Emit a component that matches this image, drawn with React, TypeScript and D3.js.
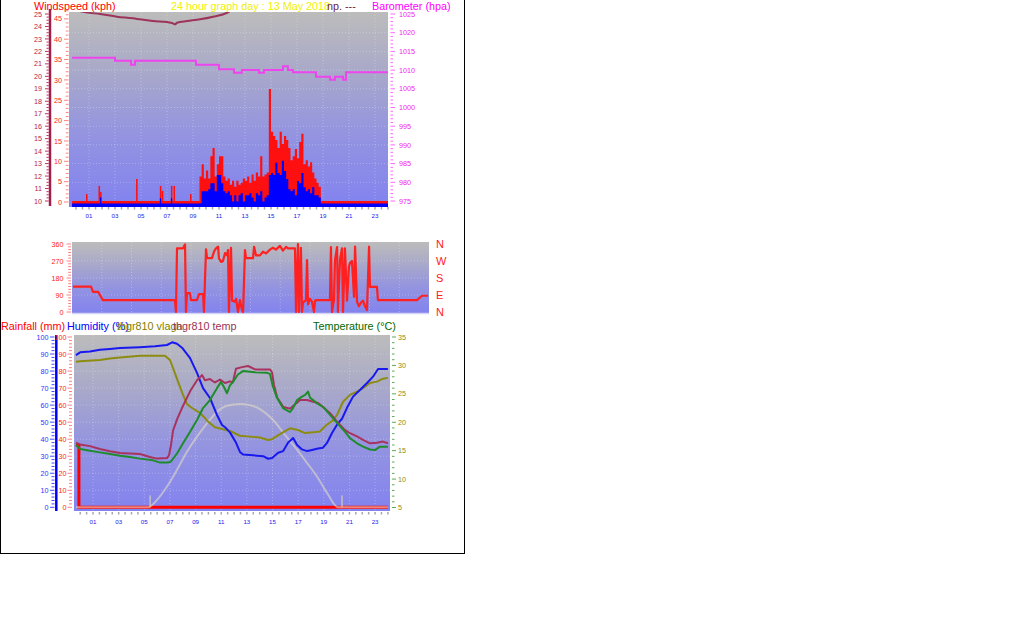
import React from "react";
import * as d3 from "d3";

// ---------- shared ----------
const hourLabels = ["01", "03", "05", "07", "09", "11", "13", "15", "17", "19", "21", "23"];
const hourLabelValues = [1, 3, 5, 7, 9, 11, 13, 15, 17, 19, 21, 23];

// ---------- top chart: wind + barometer ----------
const windStartHour = 9.5;
const windStepHours = 1 / 6;
const gustKph = [6, 9, 5.5, 7.5, 5.5, 11, 13, 6, 9, 11, 11, 6, 5, 5.5, 4, 5, 3.5, 5, 4, 4.5, 5.5, 5, 6, 4.5, 6.5, 5, 7, 6, 11, 6, 6.5, 7, 27.5, 17, 16, 15, 13, 17, 14, 16, 15, 13, 10, 11, 12.8, 10.5, 14.5, 16.5, 9, 10, 8.5, 9.5, 7, 5.5, 4.5, 3.5, 0];
const avgKph = [0, 3, 3, 3, 3.5, 5, 5, 3, 7, 7, 5, 3, 2.5, 3, 2, 0.5, 2, 0.5, 2, 2.5, 0.5, 2, 2, 2.5, 1.5, 0.5, 2.5, 2, 3, 0.5, 1.5, 2, 7, 7.5, 7, 10, 7.5, 7, 10.5, 8, 6, 3.5, 3, 3.5, 2, 5.5, 5, 7.5, 4, 3, 3.5, 2.5, 4, 2, 2, 1.5, 0];
const spikeHours = [0.77, 1.73, 1.85, 4.62, 6.45, 6.6, 7.3, 7.5, 8.77];
const spikeGust = [1.7, 3.7, 2.2, 5.4, 3.7, 2.5, 3.7, 3.7, 1.7];
const spikeAvg = [0, 0, 1.5, 0, 1.3, 0, 1.3, 0, 0];

const baroHours = [-0.3, 3.0, 4.23, 4.54, 9.23, 11.0, 12.15, 12.75, 14.08, 14.46, 15.92, 16.3, 16.69, 18.46, 19.54, 19.92, 20.54, 20.77, 24];
const baroHpa = [1013.3, 1012.5, 1011.4, 1012.5, 1011.4, 1010.2, 1009.3, 1010.0, 1009.3, 1010.0, 1011.0, 1010.0, 1009.4, 1008.2, 1007.4, 1008.2, 1007.4, 1009.4, 1009.4];

const innerTempHours = [-0.3, 0.77, 1.85, 3.15, 4.38, 4.92, 5.92, 7.0, 7.46, 7.62, 7.77, 8.54, 9.54, 10.54, 11.62, 11.85, 12.6, 24];
const innerTempVals = [25.4, 25.13, 25.0, 24.78, 24.65, 24.57, 24.43, 24.35, 24.25, 24.17, 24.3, 24.43, 24.57, 24.78, 25.1, 25.24, 25.6, 26.5];

const outerAxisTicks = [10, 11, 12, 13, 14, 15, 16, 17, 18, 19, 20, 21, 22, 23, 24, 25];
const windAxisTicks = [0, 5, 10, 15, 20, 25, 30, 35, 40, 45];
const baroAxisTicks = [975, 980, 985, 990, 995, 1000, 1005, 1010, 1015, 1020, 1025];

// ---------- middle chart: wind direction ----------
const dirHours = [0.07, 1.28, 1.41, 1.75, 2.08, 6.92, 6.99, 7.06, 7.46, 7.6, 7.66, 7.73, 7.93, 8.0, 8.4, 8.54, 8.81, 8.87, 9.01, 9.08, 9.41, 9.55, 9.68, 9.82, 9.88, 10.02, 10.15, 10.29, 10.42, 10.49, 10.55, 10.69, 10.76, 10.96, 11.03, 11.16, 11.29, 11.43, 11.5, 11.63, 11.7, 12.17, 12.24, 12.37, 12.64, 12.84, 13.04, 13.31, 13.51, 13.71, 13.98, 14.18, 14.39, 14.52, 14.99, 15.06, 15.19, 15.26, 15.39, 15.46, 15.53, 15.73, 15.8, 15.87, 16.0, 16.13, 16.27, 16.34, 16.47, 17.34, 17.41, 17.48, 17.61, 17.68, 17.82, 17.88, 18.02, 18.15, 18.22, 18.35, 18.49, 18.62, 18.69, 18.82, 18.96, 19.03, 19.16, 19.29, 19.43, 19.56, 19.7, 19.83, 19.97, 20.03, 20.5, 20.57, 23.19, 23.53, 23.93];
const dirDeg = [134, 134, 107, 107, 63, 63, 0, 337, 337, 358, 0, 100, 100, 63, 63, 95, 95, 0, 332, 285, 285, 320, 337, 346, 285, 265, 270, 312, 300, 328, 0, 340, 60, 55, 70, 0, 63, 10, 0, 328, 285, 285, 345, 300, 300, 320, 310, 330, 340, 330, 350, 325, 345, 337, 337, 0, 360, 0, 340, 0, 50, 63, 275, 40, 70, 55, 0, 60, 63, 63, 344, 0, 63, 275, 344, 0, 280, 337, 0, 337, 60, 240, 260, 270, 80, 346, 55, 30, 50, 60, 30, 10, 346, 133, 133, 63, 63, 86, 86];
const dirAxisTicks = [0, 90, 180, 270, 360];
const compassLabels = ["N", "W", "S", "E", "N"];
const compassDeg = [360, 270, 180, 90, 0];

// ---------- bottom chart ----------
const humHours = [-0.33, 0, 0.76, 1.54, 2.32, 3.1, 4.66, 5.83, 6.77, 7.17, 7.55, 7.94, 8.56, 9.11, 9.58, 10.12, 10.67, 11.06, 11.3, 11.68, 12.15, 12.46, 12.7, 13.48, 14.27, 14.66, 14.97, 15.44, 15.83, 16.22, 16.61, 16.92, 17.3, 17.7, 18.0, 18.55, 18.94, 19.25, 19.64, 20.03, 20.42, 20.81, 21.28, 21.82, 22.37, 22.84, 23.23, 24.0];
const humVals = [89.4, 91, 91.5, 92.5, 93, 93.5, 94, 94.5, 95.3, 96.9, 96, 93.7, 87.7, 78.9, 70, 64.2, 54.2, 48.3, 47, 44, 38, 32.5, 31, 30.5, 30, 28.5, 29, 32, 33, 38, 40.7, 36.6, 34, 33, 33.5, 34.5, 35, 37.8, 43.6, 48.5, 52, 58.4, 65, 68.9, 73, 76.7, 81.2, 81.2];

const vlagaHours = [-0.33, 0, 1.54, 2.32, 3.1, 4.66, 6.61, 7.0, 7.24, 7.63, 8.02, 8.33, 8.72, 9.34, 9.73, 9.97, 10.51, 11.06, 11.68, 12.46, 13.24, 14.02, 14.64, 14.96, 15.58, 16.36, 16.98, 17.53, 18.15, 18.69, 19.16, 19.7, 20.03, 20.5, 21.04, 21.59, 22.06, 22.6, 23.15, 23.61, 24.0];
const vlagaVals = [85.5, 85.7, 86.5, 87.4, 88, 89, 89, 86.5, 81.8, 73.8, 66, 60.6, 58.3, 55.4, 52.4, 50.3, 47, 46, 44.8, 42, 41.5, 41, 39.5, 40, 43, 46.4, 45.4, 43.6, 44, 44.5, 48, 51, 54.2, 62, 66, 67.9, 70, 73, 73.8, 75.5, 76];

const thgrTempHours = [-0.33, 0, 0.76, 1.54, 2.32, 3.1, 4.66, 5.44, 5.99, 6.77, 6.93, 7.08, 7.24, 7.55, 7.94, 8.56, 9.11, 9.5, 9.73, 10.12, 10.51, 10.9, 11.3, 11.68, 11.9, 12.15, 12.62, 13.09, 13.64, 14.19, 14.8, 14.96, 15.11, 15.37, 15.84, 16.38, 16.68, 17.15, 17.7, 18.17, 18.56, 18.94, 19.49, 20.03, 20.66, 21.04, 21.59, 22.06, 22.6, 23.15, 23.61, 24.0];
const thgrTempVals = [16.4, 16.1, 15.8, 15.3, 14.9, 14.6, 14.4, 13.9, 13.6, 13.7, 14.2, 16, 18.5, 20.5, 22.5, 25.4, 27.4, 28.3, 27.4, 27.6, 27.0, 27.5, 26.9, 27.2, 27.0, 29.4, 29.7, 29.9, 29.3, 29.3, 29.3, 28.8, 26.6, 24.3, 22.7, 22.4, 23.0, 23.9, 23.9, 23.6, 23.4, 22.7, 21.6, 20.1, 18.6, 18.1, 17.5, 16.9, 16.3, 16.4, 16.6, 16.3];

const tempHours = [-0.33, 0, 0.76, 1.54, 2.32, 3.1, 3.88, 4.66, 5.68, 6.22, 6.84, 7.08, 7.55, 8.02, 8.56, 9.11, 9.58, 10.12, 10.67, 10.98, 11.21, 11.45, 11.68, 11.92, 12.3, 12.69, 13.64, 14.58, 14.8, 15.03, 15.35, 15.82, 16.37, 16.6, 16.91, 17.3, 17.55, 17.77, 17.93, 18.17, 18.48, 18.94, 19.49, 20.03, 20.66, 21.04, 21.59, 22.06, 22.6, 22.99, 23.38, 24.0];
const tempVals = [16.0, 15.3, 15.0, 14.7, 14.4, 14.1, 13.9, 13.6, 13.3, 12.9, 12.9, 13.1, 14.5, 16.3, 18.3, 20.4, 22.5, 23.9, 26, 27.1, 26.2, 25.1, 26.5, 27.1, 28.4, 29.0, 28.8, 28.7, 28.5, 26.3, 24.3, 22.5, 21.8, 22.5, 23.9, 24.5, 24.8, 25.4, 24.3, 23.9, 23.3, 22.7, 21.3, 19.9, 18.3, 17.2, 16.3, 15.7, 15.2, 15.1, 15.7, 15.7];

const solarHours = [-0.33, 5.29, 5.99, 6.77, 7.55, 8.33, 9.11, 9.89, 10.67, 11.45, 12.46, 13.24, 14.02, 15.03, 15.97, 16.91, 17.69, 18.47, 19.25, 20.11, 24];
const solarVals = [0, 0, 4.3, 12.2, 22, 32.6, 41.5, 49.3, 56, 59.6, 60.7, 60, 57.7, 51.4, 42.6, 33.8, 26.1, 18.1, 8.5, 0, 0];

const rainHours = [-0.33, -0.1, 24];
const rainMm = [36.5, 0, 0];
const sunMarkerHours = [5.45, 20.42];

const humAxisTicks = [0, 10, 20, 30, 40, 50, 60, 70, 80, 90, 100];
const tempAxisTicks = [5, 10, 15, 20, 25, 30, 35];

const FONT = "'Liberation Sans', Arial, Helvetica, sans-serif";

type Sc = d3.ScaleLinear<number, number>;
function linePath(xs: number[], ys: number[], sx: Sc, sy: Sc, curve: d3.CurveFactory = d3.curveLinear) {
  const pts: [number, number][] = xs.map((x, i) => [x, ys[i]]);
  return d3.line<[number, number]>().x((d) => sx(d[0])).y((d) => sy(d[1])).curve(curve)(pts) || "";
}

function Gradient({ id }: { id: string }) {
  return (
    <linearGradient id={id} x1="0" y1="0" x2="0" y2="1">
      <stop offset="0" stopColor="#bcbcbc" />
      <stop offset="0.3" stopColor="#a9a9c9" />
      <stop offset="0.6" stopColor="#9595df" />
      <stop offset="1" stopColor="#8282f0" />
    </linearGradient>
  );
}

export default function App() {
  // ---------- top chart scales ----------
  const top = { x0: 69, x1: 388, y0: 12, y1: 207 };
  const tx = d3.scaleLinear().domain([0, 24]).range([76, 388]);
  const wy = d3.scaleLinear().domain([0, 45]).range([202, 202 - 45 * 4.07]);
  const oy = d3.scaleLinear().domain([10, 25]).range([201, 14]);
  const by = d3.scaleLinear().domain([975, 1025]).range([201, 14]);

  // ---------- direction chart ----------
  const mid = { x0: 72, x1: 429, y0: 242, y1: 314 };
  const dx = d3.scaleLinear().domain([0, 24]).range([72, 429]);
  const dy = d3.scaleLinear().domain([0, 360]).range([312, 244]);

  // ---------- bottom chart ----------
  const bot = { x0: 74, x1: 390, y0: 335, y1: 511 };
  const bx = d3.scaleLinear().domain([0, 24]).range([80.2, 387.9]);
  const hy = d3.scaleLinear().domain([0, 100]).range([507.3, 337]);
  const ty = d3.scaleLinear().domain([5, 35]).range([507.5, 337]);

  const windHours = gustKph.map((_, i) => windStartHour + i * windStepHours);
  const gustArea = d3
    .area<number>()
    .x((_, i) => tx(windHours[i]))
    .y0(top.y1)
    .y1((d) => wy(d) - 1)
    .curve(d3.curveStepAfter)(gustKph) || "";
  const avgArea = d3
    .area<number>()
    .x((_, i) => tx(windHours[i]))
    .y0(top.y1)
    .y1((d) => wy(d) + 1.5)
    .curve(d3.curveStepAfter)(avgKph) || "";

  const halfHours = d3.range(0, 24.01, 0.5);
  const gridCol = "rgba(255,255,255,0.28)";

  return (
    <svg
      width={1016}
      height={626}
      style={{ position: "absolute", left: 0, top: 0, background: "#fff" }}
      fontFamily={FONT}
    >
      <defs>
        <Gradient id="bgTop" />
        <Gradient id="bgMid" />
        <Gradient id="bgBot" />
        <clipPath id="clipTop">
          <rect x={top.x0} y={top.y0} width={top.x1 - top.x0} height={top.y1 - top.y0} />
        </clipPath>
        <clipPath id="clipMid">
          <rect x={mid.x0} y={mid.y0} width={mid.x1 - mid.x0} height={mid.y1 - mid.y0} />
        </clipPath>
        <clipPath id="clipBot">
          <rect x={bot.x0} y={bot.y0} width={bot.x1 - bot.x0} height={bot.y1 - bot.y0} />
        </clipPath>
      </defs>
      <rect x={0} y={0} width={1016} height={626} fill="#fff" />

      {/* ================= TOP CHART ================= */}
      <rect x={top.x0} y={top.y0} width={top.x1 - top.x0} height={top.y1 - top.y0} fill="url(#bgTop)" />
      <g stroke={gridCol} strokeDasharray="1 2">
        {hourLabelValues.map((h) => (
          <line key={h} x1={tx(h)} x2={tx(h)} y1={top.y0} y2={top.y1} />
        ))}
        {baroAxisTicks.slice(1, -1).map((v) => (
          <line key={v} x1={top.x0} x2={top.x1} y1={by(v)} y2={by(v)} />
        ))}
      </g>
      <g clipPath="url(#clipTop)">
        {/* baselines */}
        <rect x={tx(-0.3)} y={wy(0) - 1} width={tx(24) - tx(-0.3)} height={top.y1 - wy(0) + 1} fill="#ff1010" />
        <path d={gustArea} fill="#ff1010" />
        {spikeHours.map((h, i) => (
          <rect key={"sg" + i} x={tx(h)} y={wy(spikeGust[i]) - 1} width={tx(h + 0.12) - tx(h)} height={top.y1 - wy(spikeGust[i]) + 1} fill="#ff1010" />
        ))}
        <rect x={tx(-0.3)} y={wy(0) + 1.5} width={tx(24) - tx(-0.3)} height={top.y1 - wy(0) - 1.5} fill="#0000ff" />
        <path d={avgArea} fill="#0000ff" />
        {spikeHours.map((h, i) =>
          spikeAvg[i] > 0 ? (
            <rect key={"sa" + i} x={tx(h)} y={wy(spikeAvg[i]) + 1.5} width={tx(h + 0.1) - tx(h)} height={top.y1 - wy(spikeAvg[i]) - 1.5} fill="#0000ff" />
          ) : null
        )}
        <path d={linePath(baroHours, baroHpa, tx, by, d3.curveStepAfter)} fill="none" stroke="#ee44ee" strokeWidth={2} />
        <path d={linePath(innerTempHours, innerTempVals, tx, oy, d3.curveMonotoneX)} fill="none" stroke="#9c3358" strokeWidth={2} />
      </g>
      {/* x minor ticks + labels */}
      <g stroke="#a8a8a8" strokeWidth={1.5}>
        {halfHours.map((h) => (
          <line key={h} x1={tx(h)} x2={tx(h)} y1={207} y2={209.5} />
        ))}
      </g>
      <g fill="#2020ee" fontSize={6.2} textAnchor="middle">
        {hourLabels.map((l, i) => (
          <text key={l} x={tx(hourLabelValues[i])} y={217.5}>{l}</text>
        ))}
      </g>
      {/* outer left axis (10..25) */}
      <line x1={50} x2={50} y1={9} y2={206} stroke="#a0204a" strokeWidth={2.5} />
      <g stroke="#c03060" strokeWidth={1}>
        {d3.range(10, 25.01, 0.25).map((v) => (
          <line key={v} x1={Number.isInteger(v) ? 45 : 46.5} x2={48.7} y1={oy(v)} y2={oy(v)} />
        ))}
      </g>
      <g fill="#b8204a" fontSize={7.2} textAnchor="end">
        {outerAxisTicks.map((v) => (
          <text key={v} x={42} y={oy(v) + 2.6}>{v}</text>
        ))}
      </g>
      {/* wind axis 0..45 */}
      <g stroke="#ff8080" strokeWidth={1}>
        {d3.range(0, 47.01, 1).map((v) => (
          <line key={v} x1={v % 5 === 0 ? 64 : 65.8} x2={68.5} y1={wy(v)} y2={wy(v)} />
        ))}
      </g>
      <g fill="#ff2020" fontSize={7.2} textAnchor="end">
        {windAxisTicks.map((v) => (
          <text key={v} x={62} y={wy(v) + 2.6}>{v}</text>
        ))}
      </g>
      {/* barometer axis */}
      <g stroke="#ff66ff" strokeWidth={1}>
        {d3.range(975, 1025.01, 1).map((v) => (
          <line key={v} x1={390.5} x2={v % 5 === 0 ? 395 : 393} y1={by(v)} y2={by(v)} />
        ))}
      </g>
      <g fill="#ee22ee" fontSize={7.2} textAnchor="start">
        {baroAxisTicks.map((v) => (
          <text key={v} x={399} y={by(v) + 2.6}>{v}</text>
        ))}
      </g>
      {/* titles */}
      <g fontSize={10.8}>
        <text x={34} y={9.5} fill="#ff0000">Windspeed (kph)</text>
        <text x={171} y={9.5} fill="#f0f000">24 hour graph day : 13 May 2018</text>
        <text x={327} y={9.5} fill="#702040">np. ---</text>
        <text x={372} y={9.5} fill="#ff00ff">Barometer (hpa)</text>
      </g>

      {/* ================= DIRECTION CHART ================= */}
      <rect x={mid.x0} y={mid.y0} width={mid.x1 - mid.x0} height={mid.y1 - mid.y0} fill="url(#bgMid)" />
      <g stroke={gridCol} strokeDasharray="1 2">
        {[90, 180, 270].map((v) => (
          <line key={v} x1={mid.x0} x2={mid.x1} y1={dy(v)} y2={dy(v)} />
        ))}
        {d3.range(2, 24, 2).map((h) => (
          <line key={h} x1={dx(h)} x2={dx(h)} y1={mid.y0} y2={mid.y1} />
        ))}
      </g>
      <line x1={mid.x0} x2={mid.x1} y1={313.5} y2={313.5} stroke="#d4d4f4" strokeWidth={1.5} />
      <g clipPath="url(#clipMid)">
        <path d={linePath(dirHours, dirDeg, dx, dy)} fill="none" stroke="#ff2020" strokeWidth={2.2} strokeLinejoin="round" />
      </g>
      <g stroke="#ff8080" strokeWidth={1}>
        {d3.range(0, 360.01, 15).map((v) => (
          <line key={v} x1={v % 90 === 0 ? 66.5 : 68.2} x2={71} y1={dy(v)} y2={dy(v)} />
        ))}
      </g>
      <g fill="#ff2020" fontSize={7.2} textAnchor="end">
        {dirAxisTicks.map((v) => (
          <text key={v} x={63.5} y={dy(v) + 2.6}>{v}</text>
        ))}
      </g>
      <g fill="#ff2020" fontSize={11}>
        {compassLabels.map((l, i) => (
          <text key={i} x={436} y={dy(compassDeg[i]) + 4}>{l}</text>
        ))}
      </g>

      {/* ================= BOTTOM CHART ================= */}
      <rect x={bot.x0} y={bot.y0} width={bot.x1 - bot.x0} height={bot.y1 - bot.y0} fill="url(#bgBot)" />
      <g stroke={gridCol} strokeDasharray="1 2">
        {hourLabelValues.map((h) => (
          <line key={h} x1={bx(h)} x2={bx(h)} y1={bot.y0} y2={bot.y1} />
        ))}
        {humAxisTicks.slice(1, -1).map((v) => (
          <line key={v} x1={bot.x0} x2={bot.x1} y1={hy(v)} y2={hy(v)} />
        ))}
      </g>
      <g clipPath="url(#clipBot)">
        <path d={linePath(rainHours, rainMm, bx, hy, d3.curveStepAfter)} fill="none" stroke="#ff0000" strokeWidth={3} />
        <path d={linePath(solarHours, solarVals, bx, hy, d3.curveMonotoneX)} fill="none" stroke="#ddd6c8" strokeOpacity={0.62} strokeWidth={2} />
        {sunMarkerHours.map((h) => (
          <line key={h} x1={bx(h)} x2={bx(h)} y1={hy(7)} y2={hy(0)} stroke="#e4dca0" strokeWidth={1} />
        ))}
        <path d={linePath(vlagaHours, vlagaVals, bx, hy)} fill="none" stroke="#8c8c10" strokeWidth={2} strokeLinejoin="round" />
        <path d={linePath(humHours, humVals, bx, hy)} fill="none" stroke="#1818f0" strokeWidth={2} strokeLinejoin="round" />
        <path d={linePath(thgrTempHours, thgrTempVals, bx, ty)} fill="none" stroke="#a8335e" strokeWidth={2} strokeLinejoin="round" />
        <path d={linePath(tempHours, tempVals, bx, ty)} fill="none" stroke="#1e8c2a" strokeWidth={2} strokeLinejoin="round" />
      </g>
      <g stroke="#a8a8a8" strokeWidth={1.5}>
        {halfHours.map((h) => (
          <line key={h} x1={bx(h)} x2={bx(h)} y1={512} y2={514.5} />
        ))}
      </g>
      <g fill="#2020ee" fontSize={6.2} textAnchor="middle">
        {hourLabels.map((l, i) => (
          <text key={l} x={bx(hourLabelValues[i])} y={524}>{l}</text>
        ))}
      </g>
      {/* humidity axis */}
      <line x1={56.3} x2={56.3} y1={335} y2={511} stroke="#0000ff" strokeWidth={2.5} />
      <g stroke="#4848ff" strokeWidth={1}>
        {d3.range(0, 100.01, 2).map((v) => (
          <line key={v} x1={v % 10 === 0 ? 50 : 51.5} x2={54.5} y1={hy(v)} y2={hy(v)} />
        ))}
      </g>
      <g fill="#3030ff" fontSize={7.2} textAnchor="end">
        {humAxisTicks.map((v) => (
          <text key={v} x={48.5} y={hy(v) + 2.6}>{v}</text>
        ))}
      </g>
      {/* rain axis */}
      <g stroke="#ff8080" strokeWidth={1}>
        {d3.range(0, 100.01, 2).map((v) => (
          <line key={v} x1={v % 10 === 0 ? 67.5 : 69} x2={72} y1={hy(v)} y2={hy(v)} />
        ))}
      </g>
      <g fill="#ff2020" fontSize={7.2} textAnchor="end">
        {humAxisTicks.map((v) => (
          <text key={v} x={66.5} y={hy(v) + 2.6}>{v}</text>
        ))}
      </g>
      {/* temperature axis */}
      <g stroke="#5aaa5a" strokeWidth={1}>
        {d3.range(5, 35.01, 1).map((v) => (
          <line key={v} x1={392} x2={v % 5 === 0 ? 396 : 394.5} y1={ty(v)} y2={ty(v)} />
        ))}
      </g>
      <g fill="#8c8c10" fontSize={7.2} textAnchor="start">
        {tempAxisTicks.map((v) => (
          <text key={v} x={398} y={ty(v) + 2.6}>{v}</text>
        ))}
      </g>
      <g fontSize={10.8}>
        <text x={1} y={330} fill="#ff0000">Rainfall (mm)</text>
        <text x={67} y={330} fill="#0000ff">Humidity (%)</text>
        <text x={117} y={330} fill="#808000">thgr810 vlaga</text>
        <text x={173} y={330} fill="#993355">thgr810 temp</text>
        <text x={313} y={330} fill="#006600">Temperature (°C)</text>
      </g>

      {/* frame */}
      <g stroke="#000" strokeWidth={1}>
        <line x1={0.5} x2={0.5} y1={0} y2={554} />
        <line x1={464.5} x2={464.5} y1={0} y2={554} />
        <line x1={0} x2={465} y1={553.5} y2={553.5} />
      </g>
    </svg>
  );
}
